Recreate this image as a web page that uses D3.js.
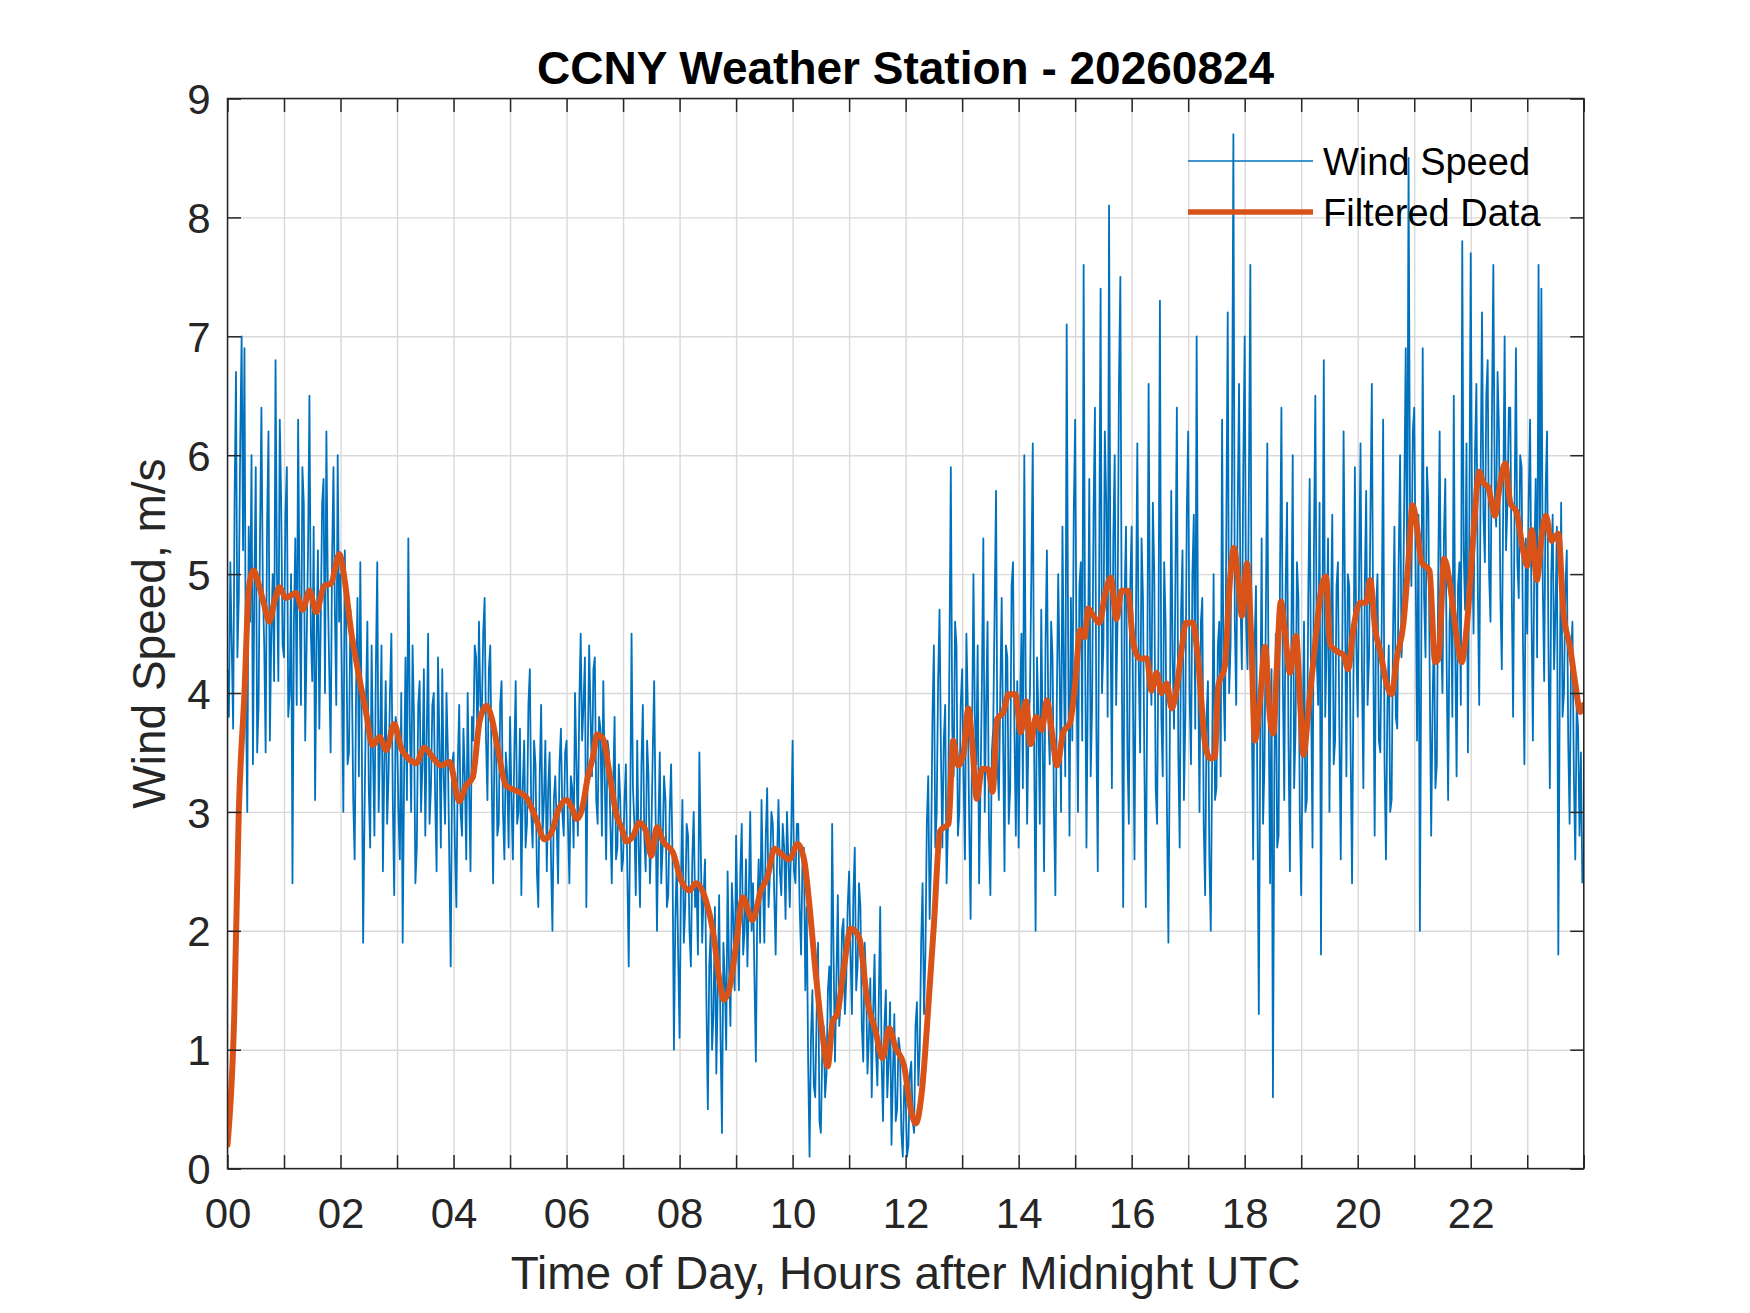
<!DOCTYPE html>
<html>
<head>
<meta charset="utf-8">
<script src="https://cdn.jsdelivr.net/npm/d3@7"></script>
<style>
  html, body { margin: 0; padding: 0; background: #ffffff; }
  svg { display: block; }
  text { font-family: "Liberation Sans", Arial, Helvetica, sans-serif; }
</style>
</head>
<body>
<svg id="chart" width="1750" height="1313"></svg>
<script>
// ---------------- DATA ----------------
const chartTitle = "CCNY Weather Station - 20260824";
const xAxisLabel = "Time of Day, Hours after Midnight UTC";
const yAxisLabel = "Wind Speed, m/s";
const seriesNames = ["Wind Speed", "Filtered Data"];

const xTickHours = [0,1,2,3,4,5,6,7,8,9,10,11,12,13,14,15,16,17,18,19,20,21,22,23,24];
const xTickLabels = ["00","02","04","06","08","10","12","14","16","18","20","22"];
const yTickValues = [0,1,2,3,4,5,6,7,8,9];

// raw wind speed, one sample every 1.5 minutes (40 samples per hour row)
const sampleMinutes = 1.5;
const windSpeed = [
  4.2,3.8,5.1,4.4,3.7,5.6,6.7,4.3,4.8,6.1,7.0,5.2,6.9,4.0,3.0,5.4,4.6,6.0,3.4,4.9,5.9,3.5,3.9,5.3,6.4,4.9,4.4,3.5,5.4,6.2,3.6,4.5,5.0,4.1,6.8,5.0,4.1,6.3,5.6,4.4, // 00
  4.3,5.5,5.9,3.8,4.0,5.0,2.4,4.6,5.3,3.9,6.3,4.8,3.9,5.9,5.6,3.6,4.4,5.2,6.5,4.5,4.1,5.4,3.1,4.4,5.2,3.7,4.6,5.6,5.8,4.0,6.2,4.9,4.2,3.5,5.1,5.9,4.7,3.9,6.0,4.6, // 01
  5.0,4.1,3.0,5.2,4.6,3.4,3.5,4.7,4.2,3.1,2.6,4.0,4.8,3.3,5.1,3.7,1.9,3.0,3.9,4.6,3.2,2.7,4.4,3.5,2.8,4.2,5.1,3.0,3.6,4.4,2.5,3.4,4.1,2.9,3.3,4.0,4.5,3.1,2.3,3.8, // 02
  3.7,3.0,2.6,4.0,1.9,3.3,4.3,3.1,5.3,3.8,3.0,4.4,3.8,2.4,2.7,3.9,4.1,3.0,3.4,4.2,2.8,3.6,4.5,2.9,3.2,3.9,4.0,3.1,2.5,4.3,3.6,2.7,4.2,3.3,2.9,4.0,3.5,2.6,1.7,3.4, // 03
  3.5,2.7,2.2,3.4,3.9,3.0,2.8,3.7,3.3,2.6,4.0,3.2,2.5,3.8,3.6,4.4,4.3,3.5,4.6,3.9,3.8,4.5,4.8,3.6,3.1,4.2,4.4,3.3,2.4,3.6,3.7,2.8,2.9,3.9,4.1,3.0,2.6,3.5,3.3,2.7, // 04
  3.8,3.1,2.6,3.5,4.1,2.9,3.0,3.7,2.3,3.2,3.6,2.7,2.9,3.9,4.2,3.0,2.7,3.6,3.4,2.5,2.2,3.3,3.9,2.8,3.1,3.6,2.5,3.2,3.5,2.6,2.0,3.1,3.3,2.9,2.4,3.4,3.7,3.0,2.8,3.5, // 05
  3.6,2.9,2.4,3.3,3.2,2.7,4.0,3.4,2.8,3.9,4.5,3.6,3.9,4.3,2.2,3.5,4.4,3.8,3.3,4.2,4.3,3.1,2.9,3.8,3.7,2.8,4.1,3.3,2.6,3.6,3.5,2.9,2.4,3.2,3.8,2.6,2.7,3.4,3.1,2.5, // 06
  2.6,3.1,3.4,2.5,1.7,2.9,4.5,3.2,2.9,2.3,3.6,2.7,2.2,3.4,3.9,2.8,2.5,3.6,3.3,2.4,2.8,3.5,4.1,3.0,2.0,2.9,3.5,2.4,2.7,3.3,3.1,2.2,2.3,3.0,3.4,2.6,1.0,2.1,2.6,1.8, // 07
  1.1,2.4,3.1,1.9,2.2,2.9,2.8,2.0,1.7,2.6,3.0,2.2,2.4,1.8,3.5,2.7,1.9,2.3,2.6,1.4,0.5,1.7,2.0,1.0,1.3,2.2,0.8,1.5,2.3,1.1,0.3,1.9,1.6,1.0,2.5,1.7,1.2,2.4,2.1,1.5, // 08
  2.8,2.1,1.5,2.5,2.9,1.8,2.0,2.6,1.7,2.3,3.0,2.0,2.4,1.6,0.9,2.2,2.6,1.9,3.1,2.4,1.9,2.8,3.2,2.2,2.5,3.0,2.9,2.3,1.8,2.6,3.1,2.5,2.3,2.9,2.7,2.1,3.0,2.6,2.2,2.8, // 09
  3.6,2.5,2.4,2.9,2.9,2.2,1.8,2.6,2.7,1.5,2.2,0.9,0.1,1.1,1.5,0.7,0.6,1.3,1.9,0.4,0.3,1.0,1.2,0.6,0.8,1.5,1.7,1.1,2.9,1.8,0.9,1.6,2.3,1.2,1.4,2.0,2.1,1.3,1.6,2.2, // 10
  2.5,1.8,1.3,2.3,2.7,1.5,1.7,2.4,2.2,1.2,0.9,1.9,1.6,0.8,1.1,1.6,0.6,1.3,1.8,1.0,0.7,1.4,2.2,0.9,0.4,1.2,1.5,0.6,0.9,1.4,0.2,0.8,1.3,0.4,0.5,1.1,1.0,0.3,0.1,0.7, // 11
  0.6,0.1,0.2,0.8,0.9,0.4,0.3,1.2,1.4,0.7,1.0,1.9,2.4,1.3,1.8,2.9,3.3,2.1,2.6,3.8,4.4,2.7,3.0,4.1,4.7,3.5,2.7,3.6,3.9,2.4,2.9,4.3,5.9,3.7,3.3,4.6,4.4,2.8,3.0,3.9, // 12
  4.2,3.3,2.6,4.5,3.9,2.9,2.1,3.6,5.0,3.8,3.4,4.4,2.4,3.2,4.1,5.3,3.0,3.9,4.6,2.8,2.3,3.5,3.7,4.7,5.7,3.4,3.1,4.0,4.8,3.6,2.5,4.4,4.3,2.9,3.2,4.9,5.1,3.7,2.8,4.1, // 13
  2.7,3.9,4.5,3.2,6.0,4.1,2.9,3.7,4.0,5.0,6.1,3.5,2.0,4.3,3.8,2.9,4.7,3.6,2.5,4.4,5.2,3.8,3.4,4.6,4.3,3.0,2.3,3.9,5.0,4.2,3.0,5.4,4.2,3.3,7.1,4.5,2.8,4.8,3.6,5.5, // 14
  6.3,4.2,3.0,4.9,5.1,3.6,7.6,4.5,2.7,4.1,5.8,3.3,3.9,5.5,6.4,3.7,2.5,5.0,7.4,4.0,4.4,6.2,5.6,3.8,8.1,4.7,3.2,5.3,6.0,3.9,4.6,6.6,7.5,4.3,2.2,4.8,5.4,3.5,2.9,4.9, // 15
  5.4,3.9,2.6,4.6,6.1,4.2,3.5,5.3,4.8,3.4,2.2,4.0,6.6,4.4,3.9,5.6,5.0,3.2,2.9,4.5,7.3,3.8,3.3,5.1,4.6,3.0,1.9,3.6,5.7,4.3,3.7,5.0,6.4,3.5,2.7,4.7,5.2,3.1,3.8,5.5, // 16
  6.2,4.0,3.4,5.0,5.5,3.7,7.0,4.3,3.0,4.6,4.8,2.9,2.3,3.8,4.1,2.6,2.0,3.5,5.0,3.1,3.2,4.4,4.6,3.3,6.3,4.1,3.6,5.4,7.2,4.0,4.4,5.8,8.7,4.6,3.9,5.5,6.6,4.8,4.2,5.9, // 17
  7.0,4.6,4.2,5.8,7.6,3.9,2.6,4.4,4.9,3.1,1.3,3.6,5.3,2.9,3.4,4.7,6.1,3.8,2.4,4.2,0.6,3.3,4.5,2.7,2.8,5.0,6.4,4.1,3.1,4.9,5.6,3.6,2.5,4.4,6.0,3.2,3.7,5.1,4.8,3.0, // 18
  2.3,3.6,4.6,3.0,3.1,4.8,5.8,4.0,2.7,5.2,6.5,4.3,3.9,5.6,1.8,4.5,6.8,3.8,4.4,5.3,3.0,4.6,5.5,3.4,3.6,4.9,5.1,3.7,2.6,4.2,6.2,4.8,3.3,5.0,4.9,3.5,2.4,4.1,5.9,4.4, // 19
  3.8,5.0,6.1,4.2,3.2,4.9,5.7,3.9,4.3,5.5,6.6,4.4,2.8,4.7,5.0,3.6,3.5,4.6,6.3,3.4,2.6,3.9,4.4,3.0,3.1,4.5,5.4,3.8,3.7,5.1,6.0,4.3,4.6,5.7,6.9,4.8,8.5,5.6,4.9,6.2, // 20
  6.4,5.1,3.6,5.5,2.0,4.4,6.9,4.8,4.3,5.9,5.6,4.1,2.8,3.9,4.6,3.2,3.4,5.0,6.2,4.5,4.0,5.3,5.8,4.2,3.1,4.6,4.9,3.8,6.5,4.4,3.3,4.9,5.1,3.9,7.8,5.2,4.7,6.1,3.5,5.4, // 21
  7.7,5.3,4.5,6.0,6.6,4.9,3.9,5.8,7.2,5.5,5.1,6.5,6.8,5.0,4.6,6.3,7.6,5.7,5.4,6.7,6.2,4.8,4.2,5.6,7.0,5.2,5.6,6.4,6.4,4.9,3.8,5.5,6.9,5.1,4.8,6.0,5.9,4.4,3.4,5.3, // 22
  4.5,5.6,6.3,4.7,3.6,5.1,5.8,4.3,7.6,5.2,7.4,4.9,4.1,5.7,6.2,4.4,3.2,5.0,5.5,4.2,4.7,5.4,1.8,4.0,5.6,3.8,4.0,4.9,5.2,3.6,2.9,4.3,4.6,3.3,2.6,3.9,3.7,2.8,3.5,2.4  // 23
];

// filtered (smoothed) curve, read at the hours below
const filteredHours = [
  0.00,0.12,0.20,0.30,0.38,0.46,0.56,0.65,0.74,0.83,0.92,1.03,1.21,1.33,1.45,1.57,1.71,1.83,1.98,
  2.07,2.19,2.30,2.45,2.57,2.69,2.81,2.95,3.07,3.22,3.34,3.48,3.63,3.78,3.93,
  4.10,4.22,4.34,4.46,4.58,4.67,4.78,4.93,5.10,5.29,5.46,5.61,5.76,5.85,
  6.00,6.09,6.18,6.26,6.38,6.47,6.54,6.65,6.76,6.88,6.97,7.06,7.18,7.29,7.41,7.50,7.60,7.71,7.88,
  8.03,8.18,8.29,8.47,8.59,8.71,8.78,8.88,9.00,9.12,9.29,9.44,9.56,9.68,9.79,9.94,
  10.09,10.21,10.29,10.41,10.53,10.62,10.71,10.79,10.91,11.03,11.18,11.32,11.47,11.59,11.71,11.82,11.97,
  12.09,12.18,12.29,12.41,12.50,12.61,12.76,12.84,12.93,13.02,13.11,13.17,13.26,13.35,13.46,13.54,13.62,13.73,13.82,13.94,
  14.04,14.13,14.21,14.31,14.41,14.50,14.58,14.68,14.79,14.91,15.00,15.09,15.17,15.23,15.32,15.43,15.53,15.63,15.73,15.82,15.93,
  16.03,16.15,16.27,16.35,16.44,16.53,16.62,16.71,16.80,16.88,16.96,17.08,17.18,17.30,17.39,17.47,17.53,17.65,17.74,17.81,17.89,17.95,
  18.04,18.12,18.18,18.27,18.36,18.45,18.51,18.57,18.64,18.71,18.80,18.91,18.98,19.04,19.13,19.24,19.36,19.44,19.51,19.63,19.75,19.83,19.92,
  20.04,20.15,20.22,20.31,20.40,20.51,20.60,20.69,20.81,20.90,20.97,21.04,21.13,21.27,21.37,21.43,21.53,21.64,21.75,21.84,21.93,
  22.05,22.15,22.22,22.31,22.43,22.51,22.61,22.70,22.81,22.93,23.00,23.08,23.17,23.26,23.33,23.43,23.55,23.64,23.76,23.85,23.94,24.00
];
const filteredValues = [
  0.20,1.30,3.00,4.00,4.89,5.03,4.90,4.74,4.60,4.77,4.89,4.80,4.84,4.70,4.86,4.68,4.90,4.92,5.17,
  4.96,4.51,4.21,3.84,3.56,3.63,3.52,3.74,3.54,3.44,3.41,3.54,3.46,3.39,3.42,
  3.09,3.22,3.29,3.76,3.89,3.80,3.54,3.22,3.18,3.12,2.94,2.77,2.86,3.01,
  3.10,3.04,2.94,3.00,3.30,3.47,3.65,3.61,3.32,2.98,2.87,2.75,2.80,2.91,2.83,2.63,2.87,2.75,2.66,
  2.42,2.34,2.40,2.25,2.00,1.57,1.42,1.51,1.88,2.28,2.09,2.34,2.46,2.69,2.65,2.60,
  2.73,2.58,2.25,1.64,1.12,0.86,1.24,1.30,1.70,2.02,1.94,1.42,1.15,0.93,1.18,1.02,0.87,
  0.50,0.38,0.66,1.42,2.05,2.84,2.90,3.60,3.39,3.48,3.87,3.63,3.11,3.36,3.36,3.17,3.78,3.84,3.99,3.99,
  3.67,3.93,3.57,3.80,3.69,3.94,3.70,3.39,3.67,3.75,4.08,4.53,4.47,4.71,4.65,4.59,4.83,4.97,4.62,4.86,4.86,
  4.41,4.29,4.29,4.02,4.17,4.00,4.08,3.87,4.05,4.35,4.59,4.59,4.26,3.57,3.45,3.46,4.05,4.23,4.95,5.22,4.92,4.65,
  5.09,4.40,3.60,3.93,4.39,3.78,3.66,4.23,4.77,4.53,4.17,4.48,3.93,3.48,3.87,4.38,4.89,4.98,4.41,4.35,4.32,4.20,4.53,
  4.76,4.76,4.95,4.53,4.35,4.08,3.99,4.29,4.59,5.13,5.58,5.43,5.10,5.03,4.26,4.29,5.13,4.89,4.47,4.26,4.56,
  5.34,5.86,5.77,5.73,5.49,5.73,5.93,5.60,5.52,5.19,5.07,5.37,4.95,5.34,5.49,5.28,5.34,4.68,4.38,4.08,3.84,3.90
];

const seriesColors = ["#0072BD", "#D95319"];
const seriesWidths = [1.8, 6.0];

// ---------------- CHART ----------------
const svg = d3.select("#chart");
const plot = { left: 227.5, top: 98.5, width: 1356.25, height: 1070.1 };
const x = d3.scaleLinear().domain([0, 24]).range([plot.left, plot.left + plot.width]);
const y = d3.scaleLinear().domain([0, 9]).range([plot.top + plot.height, plot.top]);
const axisColor = "#262626";
const gridColor = "#d9d9d9";
const tickLen = 13.5;

svg.append("rect").attr("width", 1750).attr("height", 1313).attr("fill", "#ffffff");

svg.append("defs").append("clipPath").attr("id", "plotClip")
  .append("rect").attr("x", plot.left).attr("y", plot.top)
  .attr("width", plot.width).attr("height", plot.height);

// grid
const gx = svg.append("g").attr("transform", `translate(0,${plot.top + plot.height})`)
  .call(d3.axisBottom(x).tickValues(xTickHours).tickSize(-plot.height).tickFormat(""));
const gy = svg.append("g").attr("transform", `translate(${plot.left},0)`)
  .call(d3.axisLeft(y).tickValues(yTickValues).tickSize(-plot.width).tickFormat(""));
[gx, gy].forEach(g => {
  g.select(".domain").remove();
  g.selectAll(".tick line").attr("stroke", gridColor).attr("stroke-width", 1.4);
});

// data lines
const dataG = svg.append("g").attr("clip-path", "url(#plotClip)");
const windPts = windSpeed.map((v, i) => [i * sampleMinutes / 60, v]);
dataG.append("path")
  .attr("d", d3.line().x(d => x(d[0])).y(d => y(d[1]))(windPts))
  .attr("fill", "none").attr("stroke", seriesColors[0]).attr("stroke-width", seriesWidths[0])
  .attr("stroke-linejoin", "round");

const filtPts = filteredHours.map((h, i) => [h, filteredValues[i]]);
dataG.append("path")
  .attr("d", d3.line().curve(d3.curveMonotoneX).x(d => x(d[0])).y(d => y(d[1]))(filtPts))
  .attr("fill", "none").attr("stroke", seriesColors[1]).attr("stroke-width", seriesWidths[1])
  .attr("stroke-linejoin", "round").attr("stroke-linecap", "round");

// axes with inward ticks on all four sides
const fontTick = 42;
const xb = svg.append("g").attr("transform", `translate(0,${plot.top + plot.height})`)
  .call(d3.axisBottom(x).tickValues(xTickHours).tickSizeInner(-tickLen).tickSizeOuter(0).tickPadding(30)
    .tickFormat(d => (d % 2 === 0 && d < 24) ? xTickLabels[d / 2] : ""));
const xt = svg.append("g").attr("transform", `translate(0,${plot.top})`)
  .call(d3.axisTop(x).tickValues(xTickHours).tickSizeInner(-tickLen).tickSizeOuter(0).tickFormat(""));
const yl = svg.append("g").attr("transform", `translate(${plot.left},0)`)
  .call(d3.axisLeft(y).tickValues(yTickValues).tickSizeInner(-tickLen).tickSizeOuter(0).tickPadding(17)
    .tickFormat(d3.format("d")));
const yr = svg.append("g").attr("transform", `translate(${plot.left + plot.width},0)`)
  .call(d3.axisRight(y).tickValues(yTickValues).tickSizeInner(-tickLen).tickSizeOuter(0).tickFormat(""));
[xb, xt, yl, yr].forEach(g => {
  g.select(".domain").remove();
  g.selectAll(".tick line").attr("stroke", axisColor).attr("stroke-width", 1.5);
  g.selectAll(".tick text").attr("fill", axisColor).style("font-size", fontTick + "px")
    .style("font-family", '"Liberation Sans", Arial, Helvetica, sans-serif');
});
yl.selectAll(".tick text").attr("dy", "0.36em");

svg.append("rect").attr("x", plot.left).attr("y", plot.top)
  .attr("width", plot.width).attr("height", plot.height)
  .attr("fill", "none").attr("stroke", axisColor).attr("stroke-width", 1.5);

// title and labels
svg.append("text").attr("x", plot.left + plot.width / 2).attr("y", 84)
  .attr("text-anchor", "middle").attr("fill", "#000000")
  .style("font-size", "46px").style("font-weight", "bold").text(chartTitle);

svg.append("text").attr("x", plot.left + plot.width / 2).attr("y", 1289)
  .attr("text-anchor", "middle").attr("fill", axisColor)
  .style("font-size", "46px").text(xAxisLabel);

svg.append("text")
  .attr("transform", `translate(165,${plot.top + plot.height / 2}) rotate(-90)`)
  .attr("text-anchor", "middle").attr("fill", axisColor)
  .style("font-size", "46px").text(yAxisLabel);

// legend (no box)
const legend = svg.append("g");
const legendRows = [161, 212];
seriesNames.forEach((name, i) => {
  legend.append("line").attr("x1", 1188).attr("x2", 1313)
    .attr("y1", legendRows[i]).attr("y2", legendRows[i])
    .attr("stroke", seriesColors[i]).attr("stroke-width", i === 0 ? 1.4 : 5.5);
  legend.append("text").attr("x", 1323).attr("y", legendRows[i] + 14)
    .attr("fill", "#000000").style("font-size", "38px").text(name);
});
</script>
</body>
</html>
